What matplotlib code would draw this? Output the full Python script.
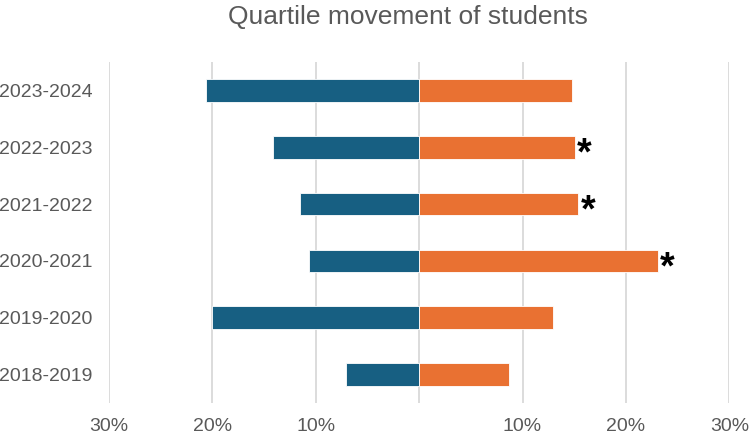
import matplotlib
matplotlib.use('Agg')
import matplotlib.pyplot as plt
from matplotlib.ticker import FixedLocator

#####################################################################
# data:
years = ['2018-2019', '2019-2020', '2020-2021', '2021-2022', '2022-2023', '2023-2024']
down = [7.1, 20.0, 10.7, 11.5, 14.1, 20.6]     # % moving down (drawn left)
up = [8.7, 12.9, 23.1, 15.4, 15.1, 14.75]        # % moving up (drawn right)
signif = [False, False, True, True, True, False]
xticks = [-30, -20, -10, 0, 10, 20, 30]
xticklabels = ['30%', '20%', '10%', '', '10%', '20%', '30%']

blue = '#175f82'
orange = '#e97132'
grey = '#595959'

plt.rcParams['font.family'] = ['Liberation Sans', 'DejaVu Sans']

#####################################################################
# plot:
fig = plt.figure(figsize=(7.5, 4.4), dpi=100)
ax = fig.add_axes([109/750, 1 - 403/440, (729.3 - 109)/750, (403 - 62)/440])

y = range(len(years))
ax.barh(y, [-d for d in down], height=0.4, color=blue, edgecolor='white', linewidth=0.6, zorder=3)
ax.barh(y, up, height=0.4, color=orange, edgecolor='white', linewidth=0.6, zorder=3)

for i, s in enumerate(signif):
    if s:
        ax.text(up[i] + 0.2, i - 0.13, '*', ha='left', va='center',
                fontsize=27, fontweight='bold', color='black', zorder=4)

#####################################################################
# format:
ax.set_xlim(-30, 30)
ax.set_ylim(-0.5, len(years) - 0.5)
ax.xaxis.set_major_locator(FixedLocator(xticks))
ax.set_xticklabels(xticklabels)
ax.set_yticks(list(y))
ax.set_yticklabels(years)
ax.grid(axis='x', color='#d9d9d9', linewidth=1.3, zorder=0)
ax.tick_params(axis='both', length=0, labelsize=14, labelcolor=grey)
ax.tick_params(axis='y', pad=12)
ax.tick_params(axis='x', pad=11)
for sp in ax.spines.values():
    sp.set_visible(False)

fig.text(408/750, 1 - 17/440, 'Quartile movement of students', ha='center', va='center',
         fontsize=19, color=grey)

fig.savefig('out.png', dpi=100)
